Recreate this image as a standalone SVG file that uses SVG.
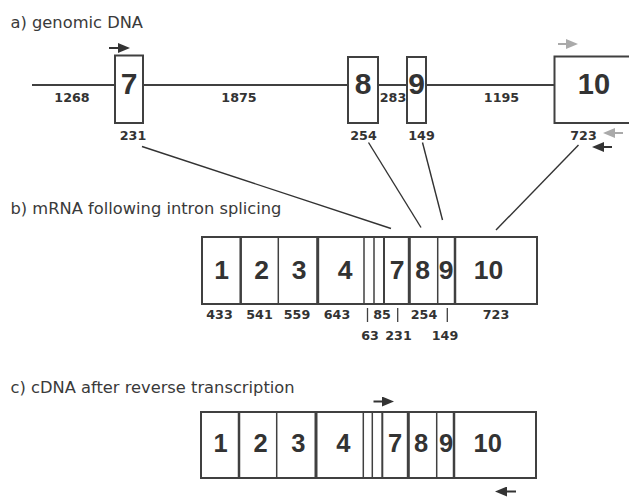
<svg xmlns="http://www.w3.org/2000/svg" width="629" height="498" viewBox="0 0 629 498">
<style>
.h{font-family:"DejaVu Sans","Liberation Sans",sans-serif;font-size:16.3px;fill:#3a3a3a}
.n{font-family:"DejaVu Sans","Liberation Sans",sans-serif;font-weight:bold;font-size:12.7px;fill:#333;text-anchor:middle}
.big{font-family:"Liberation Sans",Arial,sans-serif;font-weight:bold;fill:#333;text-anchor:middle}
.box{fill:#fff;stroke:#404040;stroke-width:2}
.ln{stroke:#404040;fill:none}
.ar{stroke-width:2;fill:none}
</style>
<defs>
<marker id="ahd" markerUnits="userSpaceOnUse" markerWidth="12" markerHeight="10" refX="6" refY="5" orient="auto">
<path d="M0,0 L12,5 L0,10 z" fill="#333"/>
</marker>
<marker id="ahg" markerUnits="userSpaceOnUse" markerWidth="12" markerHeight="10" refX="6" refY="5" orient="auto">
<path d="M0,0 L12,5 L0,10 z" fill="#aaa"/>
</marker>
</defs>

<text class="h" x="10.5" y="28">a) genomic DNA</text>
<text class="h" x="10.5" y="214">b) mRNA following intron splicing</text>
<text class="h" x="10.5" y="393">c) cDNA after reverse transcription</text>

<g id="genomic">
<line class="ln" x1="32" y1="85" x2="555" y2="85" stroke-width="2"/>
<text class="n" x="72" y="102">1268</text>
<text class="n" x="239" y="102">1875</text>
<text class="n" x="393" y="102">283</text>
<text class="n" x="501.5" y="102">1195</text>
</g>
<g id="g-exon7">
<rect class="box" x="115" y="55.5" width="28" height="67.5"/>
<text class="big" x="129" y="93.5" font-size="30">7</text>
<text class="n" x="133" y="139.5">231</text>
</g>
<g id="g-exon8">
<rect class="box" x="348" y="57" width="30" height="66"/>
<text class="big" x="363" y="93.5" font-size="30">8</text>
<text class="n" x="363.5" y="139.5">254</text>
</g>
<g id="g-exon9">
<rect class="box" x="407" y="57" width="19" height="66"/>
<text class="big" x="416.5" y="93.5" font-size="30">9</text>
<text class="n" x="421.5" y="139.5">149</text>
</g>
<g id="g-exon10">
<rect class="box" x="554.5" y="56.5" width="90" height="66.5"/>
<text class="big" x="594" y="94" font-size="29">10</text>
<text class="n" x="583.5" y="140">723</text>
</g>

<g id="primers">
<line class="ar" stroke="#333" x1="109" y1="48" x2="124" y2="48" marker-end="url(#ahd)"/>
<line class="ar" stroke="#aaa" x1="558" y1="44" x2="572" y2="44" marker-end="url(#ahg)"/>
<line class="ar" stroke="#aaa" x1="623" y1="133" x2="609" y2="133" marker-end="url(#ahg)"/>
<line class="ar" stroke="#333" x1="612" y1="147" x2="598" y2="147" marker-end="url(#ahd)"/>
<line class="ar" stroke="#333" x1="373.5" y1="401.5" x2="388" y2="401.5" marker-end="url(#ahd)"/>
<line class="ar" stroke="#333" x1="516" y1="491.5" x2="501" y2="491.5" marker-end="url(#ahd)"/>
</g>

<g id="connectors" stroke="#333" stroke-width="1.4" fill="none">
<line x1="142" y1="146.5" x2="391" y2="228.5"/>
<line x1="368.5" y1="142.5" x2="421" y2="227.5"/>
<line x1="422.5" y1="142.5" x2="442.5" y2="220"/>
<line x1="578.5" y1="145" x2="496" y2="230"/>
</g>

<g id="mrna">
<rect class="box" x="202" y="237" width="335" height="67"/>
<g class="ln">
<line x1="240.7" y1="237" x2="240.7" y2="304" stroke-width="2.5"/>
<line x1="278.3" y1="237" x2="278.3" y2="304" stroke-width="1.5"/>
<line x1="317.7" y1="237" x2="317.7" y2="304" stroke-width="3"/>
<line x1="364" y1="237" x2="364" y2="304" stroke-width="1.5"/>
<line x1="374" y1="237" x2="374" y2="304" stroke-width="1.5"/>
<line x1="384" y1="237" x2="384" y2="304" stroke-width="2"/>
<line x1="409.3" y1="237" x2="409.3" y2="304" stroke-width="3"/>
<line x1="437.7" y1="237" x2="437.7" y2="304" stroke-width="1.5"/>
<line x1="455" y1="237" x2="455" y2="304" stroke-width="2.5"/>
</g>
<g font-size="26.5">
<text class="big" x="221.5" y="278.5">1</text>
<text class="big" x="261.5" y="278.5">2</text>
<text class="big" x="299" y="278.5">3</text>
<text class="big" x="345" y="278.5">4</text>
<text class="big" x="397" y="278.5">7</text>
<text class="big" x="422.5" y="278.5">8</text>
<text class="big" x="446" y="278.5">9</text>
<text class="big" x="488.5" y="278.5">10</text>
</g>
<text class="n" x="219.5" y="319">433</text>
<text class="n" x="259.5" y="319">541</text>
<text class="n" x="297" y="319">559</text>
<text class="n" x="337" y="319">643</text>
<text class="n" x="382" y="319">85</text>
<text class="n" x="424" y="319">254</text>
<text class="n" x="496" y="319">723</text>
<text class="n" x="370" y="340">63</text>
<text class="n" x="398.5" y="340">231</text>
<text class="n" x="445" y="340">149</text>
<g class="ln" stroke-width="1.3">
<line x1="367.5" y1="308" x2="367.5" y2="322"/>
<line x1="397.7" y1="308" x2="397.7" y2="322"/>
<line x1="447.3" y1="308" x2="447.3" y2="322"/>
</g>
</g>

<g id="cdna">
<rect class="box" x="201" y="412" width="335" height="66"/>
<g class="ln">
<line x1="239" y1="412" x2="239" y2="478" stroke-width="2.5"/>
<line x1="276.7" y1="412" x2="276.7" y2="478" stroke-width="1.5"/>
<line x1="316" y1="412" x2="316" y2="478" stroke-width="3"/>
<line x1="363.3" y1="412" x2="363.3" y2="478" stroke-width="1.5"/>
<line x1="372.3" y1="412" x2="372.3" y2="478" stroke-width="1.5"/>
<line x1="382.3" y1="412" x2="382.3" y2="478" stroke-width="2"/>
<line x1="408.3" y1="412" x2="408.3" y2="478" stroke-width="3"/>
<line x1="436.7" y1="412" x2="436.7" y2="478" stroke-width="1.5"/>
<line x1="454" y1="412" x2="454" y2="478" stroke-width="2.5"/>
</g>
<g font-size="25.5">
<text class="big" x="220.7" y="451.7">1</text>
<text class="big" x="260.7" y="451.7">2</text>
<text class="big" x="298.3" y="451.7">3</text>
<text class="big" x="343.3" y="451.7">4</text>
<text class="big" x="395" y="451.7">7</text>
<text class="big" x="421" y="451.7">8</text>
<text class="big" x="446" y="451.7">9</text>
<text class="big" x="487.7" y="451.7">10</text>
</g>
</g>
</svg>
